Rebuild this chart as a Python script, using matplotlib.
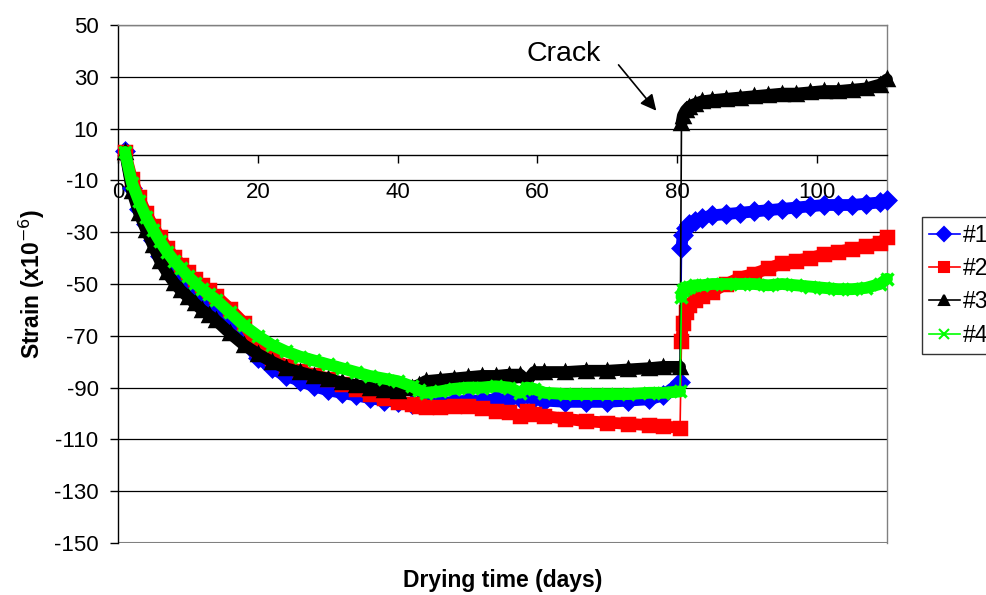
import matplotlib.pyplot as plt
from matplotlib.lines import Line2D

plt.rcParams['font.family'] = ['Liberation Sans', 'DejaVu Sans']
plt.rcParams['axes.unicode_minus'] = False

# drying days before and after the crack
days_pre = [1, 2, 3, 4, 5, 6, 7, 8, 9, 10, 11, 12, 13, 14, 16, 18, 20, 22, 24,
            26, 28, 30, 32, 34, 36, 38, 40, 42, 43, 44, 46, 48, 50, 52, 54, 56,
            57.5, 58.5, 59.5, 61, 64, 67, 70, 73, 76, 78, 80.4]
days_post = [80.6, 80.8, 81.2, 81.7, 82.5, 83.5, 85, 87, 89, 91, 93, 95, 97,
             99, 101, 103, 105, 107, 109, 110]

# strain (x10^-6) per specimen
s1_pre = [1.5, -13, -21, -27, -33, -39, -43.5, -47.5, -50.5, -53, -55.5, -58,
          -60, -62, -67, -72, -78.5, -82.5, -85.5, -87.3, -89.5, -91, -92,
          -93, -94, -95, -95.5, -96.5, -96.5, -96.5, -96, -95.5, -95, -95,
          -94.5, -94.5, -94, -92.5, -94, -95, -95.5, -95.5, -95.5, -95, -94.5,
          -93, -88]
s1_post = [-36, -31, -28.5, -27, -25.5, -24.5, -23.5, -23, -22.5, -22, -21.5,
           -21, -20.5, -20, -19.5, -19.5, -19.5, -19, -18.5, -17.5]

s2_pre = [1, -9.5, -16.5, -22.5, -27.5, -32, -36, -39.5, -42.5, -45.5, -48,
          -50.5, -52.5, -54.5, -59.5, -65, -75, -78.5, -81.5, -83.5, -85,
          -86.5, -88.5, -90.5, -92.5, -94, -95.5, -96.5, -97, -97.5, -97.5,
          -97, -97, -98, -99, -99.5, -101, -99, -100, -101, -102, -103, -103.5,
          -104, -104.5, -105, -105.5]
s2_post = [-72, -65, -61, -58, -56, -54.5, -53, -50, -47.5, -46, -44, -42, -41,
           -40, -38.5, -37.5, -36.5, -35.5, -34, -32]

s3_pre = [1, -14, -22.5, -29, -35, -41, -45.5, -49.5, -52.5, -55, -57.5, -60,
          -62, -64, -69, -73.5, -77, -80, -82.5, -84, -85.5, -86.5, -88, -89,
          -90, -91, -91.5, -90, -89, -87.5, -87, -86.5, -86, -85.5, -85.5, -85,
          -85, -87.5, -84, -84, -84, -83.5, -83.5, -83, -82.5, -82, -82]
s3_post = [12, 15, 17, 18.5, 19.5, 20.5, 21, 21.5, 22, 22.5, 23, 23.5, 23.5,
           24, 24.5, 24.5, 25, 25.5, 27, 29]

s4_pre = [1, -11, -18, -24, -29, -33.5, -37.5, -41, -44, -47, -49.5, -52, -54,
          -56, -61, -66, -70, -73.5, -76, -78, -79.5, -81, -82.5, -84, -85.5,
          -86.5, -87.5, -89.5, -91, -92, -91.5, -90.5, -90, -90, -89.5, -90,
          -92, -90, -90.5, -92, -92.5, -92.5, -92.5, -92.5, -92, -92, -91.5]
s4_post = [-55, -52.5, -51.5, -51, -50.5, -50.5, -50, -50, -50, -50, -50.5,
           -50, -50.5, -51, -51.5, -52, -52, -51.5, -50, -48]

labels = ['#1', '#2', '#3', '#4']
colors = ['#0000ff', '#ff0000', '#000000', '#00ff00']
markers = ['D', 's', '^', 'x']
series = [(s1_pre, s1_post), (s2_pre, s2_post),
          (s3_pre, s3_post), (s4_pre, s4_post)]

fig = plt.figure(figsize=(9.87, 5.95), dpi=100)
ax = fig.add_axes([118 / 987, 1 - 543 / 595, 769 / 987, 518 / 595])

for (pre, post), c, m in zip(series, colors, markers):
    for d, v in ((days_pre, pre), (days_post, post)):
        ax.plot(d, v, color=c, lw=8.5, marker=m, ms=8, mew=2.5,
                solid_capstyle='round', solid_joinstyle='round',
                clip_on=False, zorder=3)
    # the jump at the crack is a plain thin line
    ax.plot([days_pre[-1], days_post[0]], [pre[-1], post[0]], color=c, lw=1.2,
            zorder=3)

ax.set_xlim(0, 110)
ax.set_ylim(-150, 50)
ax.set_xticks(range(0, 101, 20))
ax.set_yticks(range(-150, 51, 20))
ax.yaxis.grid(True, color='black', lw=0.9)
ax.set_axisbelow(True)

ax.spines['bottom'].set_position(('data', 0))
ax.spines['bottom'].set_color('black')
ax.spines['left'].set_color('black')
ax.spines['top'].set_color('#808080')
ax.spines['right'].set_color('#808080')
for s in ax.spines.values():
    s.set_linewidth(1)
ax.axhline(-150, color='#808080', lw=1.5, zorder=1)

ax.tick_params(axis='both', labelsize=16, direction='out', width=1)
ax.tick_params(axis='x', length=6, pad=14)
ax.tick_params(axis='y', length=6, pad=8)

ax.set_ylabel('Strain (x10$^{-6}$)', fontsize=16.5, fontweight='bold')
ax.yaxis.set_label_coords(-0.092, 0.5)
ax.set_xlabel('Drying time (days)', fontsize=16.5, fontweight='bold')
ax.xaxis.set_label_coords(0.5, -0.072)
ax.xaxis.label.set_verticalalignment('center')

ax.text(63.7, 36.1, 'Crack', fontsize=20.5, ha='center', va='baseline')
ax.annotate('', xy=(77, 16.9), xytext=(71.6, 34.6),
            arrowprops=dict(arrowstyle='-|>', color='black', lw=1.2,
                            mutation_scale=24, shrinkA=0, shrinkB=0))

handles = [Line2D([], [], color=c, marker=m, ms=7, lw=1.2, mew=1.5)
           for c, m in zip(colors, markers)]
leg = fig.legend(handles, labels, loc='upper left',
                 bbox_to_anchor=(922 / 987, 1 - 217 / 595), fontsize=16.5,
                 frameon=True, fancybox=False, handlelength=1.35,
                 handletextpad=0.15, labelspacing=0.45, borderpad=0.3,
                 borderaxespad=0)
leg.get_frame().set_edgecolor('black')
leg.get_frame().set_linewidth(1)

fig.savefig('out.png', dpi=100)
